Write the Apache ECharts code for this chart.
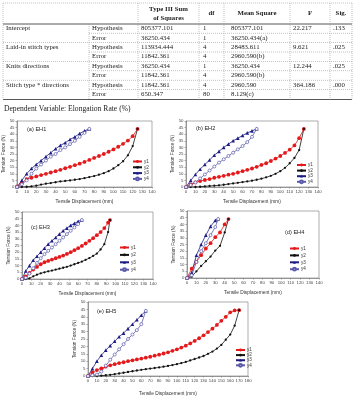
<!DOCTYPE html>
<html>
<head>
<meta charset="utf-8">
<script src="https://cdn.jsdelivr.net/npm/echarts@6/dist/echarts.min.js"></script>
<style>
html,body{margin:0;padding:0;background:#fff}
#main{width:355px;height:397px}
</style>
</head>
<body>
<div id="main"></div>
<script>
// ANOVA table
var tblHeader = ['Type III Sum', 'of Squares', 'df', 'Mean Square', 'F', 'Sig.']
var effects = ['Intercept', 'Laid-in stitch types', 'Knits directions', 'Stitch type * directions']
var sources = ['Hypothesis', 'Error']
var sumSq = ['805377.101', '36250.434', '113934.444', '11842.361', '36250.434', '11842.361', '11842.361', '650.347']
var dfs = ['1', '1', '4', '4', '1', '4', '4', '80']
var meanSq = ['805377.101', '36250.434(a)', '28483.611', '2960.590(b)', '36250.434', '2960.590(b)', '2960.590', '8.129(c)']
var fVals = ['22.217', '', '9.621', '', '12.244', '', '364.186', '']
var sigVals = ['.133', '', '.025', '', '.025', '', '.000', '']
var note = 'Dependent Variable: Elongation Rate (%)'

// curves
var seriesNames = ['y1', 'y2', 'y3', 'y4']
var panelTitles = ['(a) EH1', '(b) EH2', '(c) EH3', '(d) EH4', '(e) EH5']
var xTitle = 'Tensile Displacement (mm)'
var yTitle = 'Tension Force (N)'

var eh1X12 = [0,5,10,15,20,25,30,35,40,45,50,55,60,65,70,75,80,85,90,95,100,105,110,115,120,125]
var eh1Y1 = [0.5,3,6,7,8,9,10,11,12,13,14.2,15.3,16.5,17.7,19,20.5,22,23.5,25,26.7,28.5,30.5,32.7,35.2,38.5,44]
var eh1Y2 = [0,0,0.2,0.5,1,1.8,2.5,3,3.6,4.2,4.6,5,5.5,6,6.7,7.5,8.3,9.3,10.5,12,14,16.5,19.5,24,31,44]
var eh1X34 = [0,5,10,15,20,25,30,35,40,45,50,55,60,65,70,75]
var eh1Y3 = [0,5,10,14,17,20,23,26,29,31.5,33.5,36,38,40.5,42.5,44]
var eh1Y4 = [0,2,5,10,14,17,20,23,25,28,30,32.5,35,38,41,44]

var eh2X12 = [0,5,10,15,20,25,30,35,40,45,50,55,60,65,70,75,80,85,90,95,100,105,110,115,120,125]
var eh2Y1 = [0,2,3.5,4.5,5.3,6,7,7.7,8.5,9.3,10,11,12,13,14,15.3,16.7,18,19.7,21.5,23.5,25.8,28.3,31.5,37,44]
var eh2Y2 = [0,0,0,0.2,0.5,0.8,1,1.3,1.7,2.2,2.7,3.2,3.7,4.2,4.8,5.5,6.3,7.3,8.5,10,12,14.5,18,22,28,44]
var eh2X34 = [0,5,10,15,20,25,30,35,40,45,50,55,60,65,70,75]
var eh2Y3 = [0,5,9.5,13.5,17,20.5,24,27,30,32.5,35,37,39,41,42.5,44]
var eh2Y4 = [0,1.5,3.5,6.5,9.5,12.5,15.5,18.5,21,23.5,26,28.5,31,34,38,44]

var eh3X12 = [0,4,8,12,16,20,24,28,32,36,40,44,48,52,56,60,64,68,72,76,80,84,88,92,94]
var eh3Y1 = [0,2,4.5,7,9,11,12.5,13.5,14.5,15.5,16.5,17.5,18.7,20,21.5,23,24.7,26.5,28.5,30.5,32.7,35,38,42,44]
var eh3Y2 = [0,0,0.5,2,3.2,4.2,5,5.7,6.3,7,7.7,8.4,9.1,10,11,12,13,14.3,15.6,17.2,19,22,26,35,44]
var eh3X34 = [0,4,8,12,16,20,24,28,32,36,40,44,48,52,56,60,64]
var eh3Y3 = [0,6,10,14,17,20,23,26,28.5,31,33.5,36,38,40,41.5,43,44]
var eh3Y4 = [0,1,4,8,12,15.5,18.5,21,23.5,26,28.5,31,33.5,36,38.5,41,44]

var eh4X12 = [0,5,10,15,20,25,30,35,40,44]
var eh4Y1 = [0,7,12,17,22,26,30.5,34,40,44]
var eh4Y2 = [0,1,5,9,12.5,16,20.5,24,34,44]
var eh4X34 = [0,5,10,15,20,25,30,33]
var eh4Y3 = [0,4,17,25,32,38.5,43,44]
var eh4Y4 = [0,2,12,20,26,32,38,44]

var eh5X12 = [0,5,10,15,20,25,30,35,40,45,50,55,60,65,70,75,80,85,90,95,100,105,110,115,120,125,130,135,140,145,150,155,160,165,170]
var eh5Y1 = [0,2.5,4,5.2,6.3,7.2,8,8.7,9.3,10,10.6,11.2,11.8,12.4,13,13.7,14.4,15.2,16,17,18,19.2,20.5,22,23.7,25.5,27.5,29.7,32,34.5,37.3,40,43,44.3,44.5]
var eh5Y2 = [0,0,0,0.2,0.5,0.8,1.2,1.7,2.2,2.7,3.2,3.7,4.2,4.6,5,5.4,5.8,6.3,6.8,7.4,8,8.7,9.5,10.5,11.5,12.5,13.5,15,16.5,18.5,21,24.5,28,34,44.5]
var eh5X34 = [0,5,10,15,20,25,30,35,40,45,50,55,60,65]
var eh5Y3 = [0,5,10,14,17.5,20.5,23.5,26.5,29,32,35,38,41,44]
var eh5Y4 = [0,0.5,1,3,7,11,14.5,18,21.5,25,28,31,35,44]

var xMaxes = [140, 140, 140, 140, 180]

var panelData = [
    [[eh1X12, eh1Y1], [eh1X12, eh1Y2], [eh1X34, eh1Y3], [eh1X34, eh1Y4]],
    [[eh2X12, eh2Y1], [eh2X12, eh2Y2], [eh2X34, eh2Y3], [eh2X34, eh2Y4]],
    [[eh3X12, eh3Y1], [eh3X12, eh3Y2], [eh3X34, eh3Y3], [eh3X34, eh3Y4]],
    [[eh4X12, eh4Y1], [eh4X12, eh4Y2], [eh4X34, eh4Y3], [eh4X34, eh4Y4]],
    [[eh5X12, eh5Y1], [eh5X12, eh5Y2], [eh5X34, eh5Y3], [eh5X34, eh5Y4]]
]

// layout of the five plot boxes
var boxes = [
    {left: 17, top: 121, width: 135, height: 66},
    {left: 186, top: 121, width: 132, height: 66},
    {left: 22, top: 212, width: 131, height: 67},
    {left: 187, top: 211, width: 132, height: 67},
    {left: 88, top: 302, width: 160, height: 74}
]
var legendPos = [
    {left: 132, top: 159, gap: 0.8},
    {left: 296, top: 162.5, gap: 0.6},
    {left: 119, top: 245, gap: 2.4},
    {left: 289, top: 246, gap: 1.9},
    {left: 235, top: 347.5, gap: 0.1}
]
var labelPos = [[27, 129], [196, 128], [31, 227], [285, 232], [97, 311]]

var styles = {
    y1: {color: '#e3191c', symbol: 'circle', size: 3.8, fill: '#e3191c'},
    y2: {color: '#111111', symbol: 'circle', size: 2.3, fill: '#111111'},
    y3: {color: '#1c1c84', symbol: 'triangle', size: 3.6, fill: '#1c1c84'},
    y4: {color: '#5a5aaa', symbol: 'circle', size: 3, fill: '#ffffff'}
}

var sansFont = '"Liberation Sans", Arial, sans-serif'
var serifFont = '"Liberation Serif", "Times New Roman", serif'

var grids = [], xAxes = [], yAxes = [], series = [], legends = [], graphics = []

for (var p = 0; p < 5; p++) {
    var b = boxes[p]
    grids.push({
        left: b.left, top: b.top, width: b.width, height: b.height,
        show: true, borderColor: '#8a8a8a', borderWidth: 0.7,
        containLabel: false, outerBoundsMode: 'none'
    })
    xAxes.push({
        type: 'value', gridIndex: p, min: 0, max: xMaxes[p], interval: 10,
        name: xTitle, nameLocation: 'middle', nameGap: p == 4 ? 15 : 12,
        nameTextStyle: {fontSize: 4.8, color: '#333', fontFamily: sansFont},
        axisLine: {show: true, onZero: false, lineStyle: {color: '#777', width: 0.7}},
        axisTick: {show: true, length: 1.5, inside: false, lineStyle: {color: '#777', width: 0.6}},
        axisLabel: {fontSize: 4.3, color: '#444', margin: 3, fontFamily: sansFont, hideOverlap: false, showMinLabel: true, showMaxLabel: true},
        splitLine: {show: false}
    })
    yAxes.push({
        type: 'value', gridIndex: p, min: 0, max: 50, interval: 5,
        name: yTitle, nameLocation: 'middle', nameGap: 9,
        nameTextStyle: {fontSize: 4.8, color: '#333', fontFamily: sansFont},
        axisLine: {show: true, lineStyle: {color: '#777', width: 0.7}},
        axisTick: {show: true, length: 1.5, lineStyle: {color: '#777', width: 0.6}},
        axisLabel: {fontSize: 4.3, color: '#444', margin: 2.5, fontFamily: sansFont, hideOverlap: false, showMinLabel: true, showMaxLabel: true},
        splitLine: {show: false}
    })
    for (var s = 0; s < 4; s++) {
        var nm = seriesNames[s]
        var st = styles[nm]
        var xs = panelData[p][s][0], ys = panelData[p][s][1]
        var pts = []
        for (var i = 0; i < xs.length; i++) {
            pts.push([xs[i], ys[i]])
        }
        series.push({
            name: nm, type: 'line', xAxisIndex: p, yAxisIndex: p,
            data: pts, symbol: st.symbol, symbolSize: st.size, showSymbol: true,
            animation: false, silent: true,
            lineStyle: {color: st.color, width: 0.8},
            itemStyle: {color: st.fill, borderColor: st.color, borderWidth: st.fill == '#ffffff' ? 0.7 : 0}
        })
    }
    legends.push({
        data: seriesNames, orient: 'vertical',
        left: legendPos[p].left, top: legendPos[p].top,
        itemGap: legendPos[p].gap, itemWidth: 9, itemHeight: 3.5,
        padding: 0, selectedMode: false,
        textStyle: {fontSize: 4.6, color: '#333', fontFamily: sansFont, padding: [0, 0, 0, -3]}
    })
    graphics.push({
        type: 'text', x: labelPos[p][0], y: labelPos[p][1],
        style: {text: panelTitles[p], font: '5.6px ' + sansFont, fill: '#222', textAlign: 'left', textVerticalAlign: 'middle'}
    })
}

// ANOVA table drawn with graphic elements
var colX = [3, 89, 138, 199, 224, 290, 330, 352]
var rowY = [24, 33.3, 42.7, 52, 61.4, 70.8, 80.2, 89.6, 99.5]

function hline(x1, x2, y, solid) {
    graphics.push({
        type: 'line', silent: true,
        shape: {x1: x1, y1: y, x2: x2, y2: y},
        style: solid ? {stroke: '#444', lineWidth: 0.9} : {stroke: '#9a9a9a', lineWidth: 0.6, lineDash: [1, 1]}
    })
}
function vline(x, y1, y2) {
    graphics.push({
        type: 'line', silent: true,
        shape: {x1: x, y1: y1, x2: x, y2: y2},
        style: {stroke: '#9a9a9a', lineWidth: 0.6, lineDash: [1, 1]}
    })
}
function cell(txt, x, y, bold, align) {
    graphics.push({
        type: 'text', x: x, y: y, silent: true,
        style: {text: txt, font: (bold ? 'bold ' : '') + '6.8px ' + serifFont, fill: '#222', textAlign: align || 'left', textVerticalAlign: 'middle'}
    })
}

hline(3, 352, 3, false)
hline(3, 352, rowY[0], true)
hline(3, 352, rowY[8], true)
for (var r = 1; r < 8; r++) {
    hline(r % 2 == 0 ? 3 : colX[1], 352, rowY[r], false)
}
for (var c = 0; c < colX.length; c++) {
    vline(colX[c], c == 1 ? rowY[0] : 3, rowY[8])
}

cell(tblHeader[0], 168.5, 9.5, true, 'center')
cell(tblHeader[1], 168.5, 18, true, 'center')
cell(tblHeader[2], 211.5, 13.5, true, 'center')
cell(tblHeader[3], 257, 13.5, true, 'center')
cell(tblHeader[4], 310, 13.5, true, 'center')
cell(tblHeader[5], 341, 13.5, true, 'center')

for (var r = 0; r < 8; r++) {
    var yc = (rowY[r] + rowY[r + 1]) / 2
    if (r % 2 == 0) cell(effects[r / 2], 6, yc)
    cell(sources[r % 2], 92, yc)
    cell(sumSq[r], 141, yc)
    cell(dfs[r], 203, yc)
    cell(meanSq[r], 231, yc)
    cell(fVals[r], 293, yc)
    cell(sigVals[r], 333, yc)
}

graphics.push({
    type: 'text', x: 4, y: 109, silent: true,
    style: {text: note, font: '7.6px ' + serifFont, fill: '#222', textAlign: 'left', textVerticalAlign: 'middle'}
})

var chart = echarts.init(document.getElementById('main'))
chart.setOption({
    animation: false,
    backgroundColor: '#ffffff',
    textStyle: {fontFamily: sansFont},
    grid: grids,
    xAxis: xAxes,
    yAxis: yAxes,
    legend: legends,
    series: series,
    graphic: graphics
})
</script>
</body>
</html>
